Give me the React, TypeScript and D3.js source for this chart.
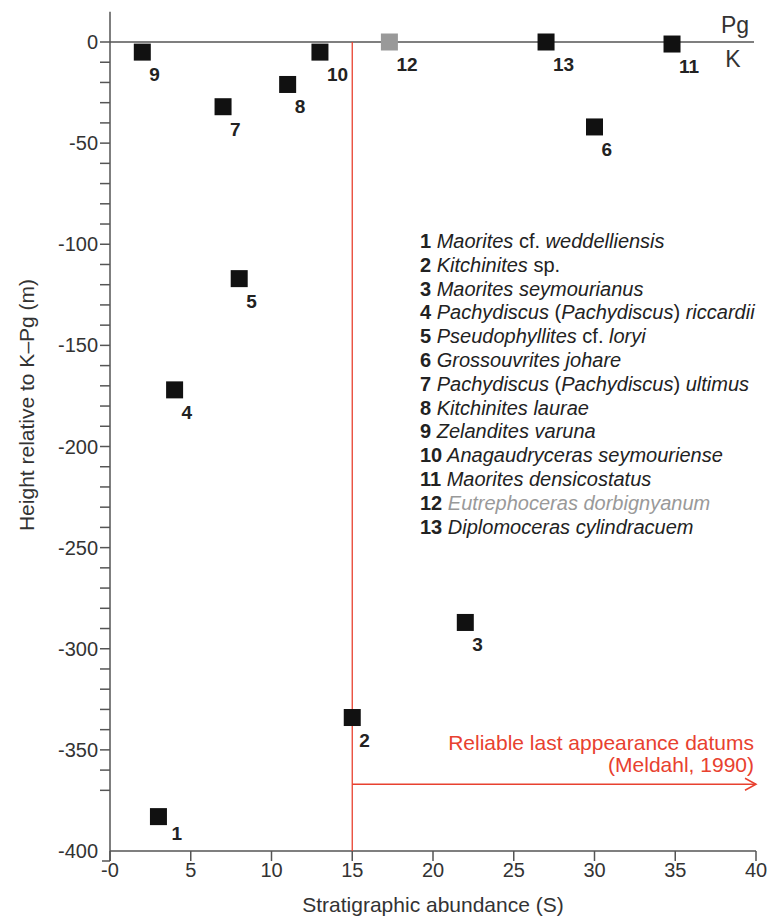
import React from "react";
import * as d3 from "d3";

// Taxon numbers, stratigraphic abundance (S) and height of last occurrence relative to the K–Pg boundary (m)
const taxonIds = [1, 2, 3, 4, 5, 6, 7, 8, 9, 10, 11, 12, 13];
const abundance = [3, 15, 22, 4, 8, 30, 7, 11, 2, 13, 34.8, 17.3, 27];
const heightKPg = [-383, -334, -287, -172, -117, -42, -32, -21, -5, -5, -1, 0, 0];
// Nautiloid drawn in grey
const greyTaxa = [12];

// Legend: each entry is a list of [text, italic] segments
const taxonNames: [string, boolean][][] = [
  [["Maorites", true], [" cf. ", false], ["weddelliensis", true]],
  [["Kitchinites", true], [" sp.", false]],
  [["Maorites seymourianus", true]],
  [["Pachydiscus", true], [" (", false], ["Pachydiscus", true], [") ", false], ["riccardii", true]],
  [["Pseudophyllites", true], [" cf. ", false], ["loryi", true]],
  [["Grossouvrites johare", true]],
  [["Pachydiscus", true], [" (", false], ["Pachydiscus", true], [") ", false], ["ultimus", true]],
  [["Kitchinites laurae", true]],
  [["Zelandites varuna", true]],
  [["Anagaudryceras seymouriense", true]],
  [["Maorites densicostatus", true]],
  [["Eutrephoceras dorbignyanum", true]],
  [["Diplomoceras cylindracuem", true]],
];

const xTicks = [0, 5, 10, 15, 20, 25, 30, 35, 40];
const yMajorTicks = [0, -50, -100, -150, -200, -250, -300, -350, -400];
const yMinorTicks = [-10, -20, -30, -40, -60, -70, -80, -90, -110, -120, -130, -140, -160, -170, -180, -190,
  -210, -220, -230, -240, -260, -270, -280, -290, -310, -320, -330, -340, -360, -370];

// Reliable last appearance datum threshold (Meldahl, 1990)
const ladThreshold = 15;
const ladArrowLevel = -367;

const FONT = "'Liberation Sans', Arial, Helvetica, sans-serif";
const AXIS = "#555";
const TEXT = "#333";
const RED = "#e8412f";
const GREY = "#999";

export default function App() {
  const W = 781, H = 922;
  const x = d3.scaleLinear().domain([0, 40]).range([110, 756]);
  const y = d3.scaleLinear().domain([-400, 0]).range([851, 42]);
  const x0 = x(0);
  const yBase = y(-400);
  const tick = 10;
  const sq = 17;

  // label placement relative to each square's centre
  const labelOffset = (id: number) => (id === 1 ? [13, 23] : [7, 29]);

  const arrowY = y(ladArrowLevel);
  const arrowEnd = x(40);

  return (
    <svg width={W} height={H} style={{ position: "absolute", left: 0, top: 0, background: "#fff" }}
      fontFamily={FONT}>
      <rect width={W} height={H} fill="#fff" />

      {/* y axis */}
      <line x1={x0} x2={x0} y1={y(15)} y2={yBase + tick} stroke={AXIS} strokeWidth={1.5} />
      {yMinorTicks.map((v) => (
        <line key={"mn" + v} x1={x0 - tick} x2={x0} y1={y(v)} y2={y(v)} stroke={AXIS} strokeWidth={1.5} />
      ))}
      {yMajorTicks.filter((v) => v !== -400 && v !== 0).map((v) => (
        <line key={"mj" + v} x1={x0 - tick} x2={x0} y1={y(v)} y2={y(v)} stroke={AXIS} strokeWidth={1.5} />
      ))}
      <line x1={x0 - 8} x2={x0} y1={yBase + tick} y2={yBase + tick} stroke={AXIS} strokeWidth={1.5} />
      {yMajorTicks.map((v) => (
        <text key={"yl" + v} x={x0 - 12} y={y(v) + 7} textAnchor="end" fontSize={20} fill={TEXT}>
          {String(v)}
        </text>
      ))}
      <text transform={`translate(34,405) rotate(-90)`} textAnchor="middle"
        fontSize={21} fill={TEXT}>
        Height relative to K–Pg (m)
      </text>

      {/* x axis */}
      <line x1={x0} x2={x(40)} y1={yBase} y2={yBase} stroke={AXIS} strokeWidth={1.5} />
      {xTicks.map((v) => (
        <line key={"xt" + v} x1={x(v)} x2={x(v)} y1={yBase} y2={yBase + tick} stroke={AXIS} strokeWidth={1.5} />
      ))}
      {xTicks.map((v) => (
        <text key={"xl" + v} x={x(v)} y={yBase + 26} textAnchor="middle" fontSize={20} fill={TEXT}>
          {v === 0 ? "-0" : String(v)}
        </text>
      ))}
      <text x={(x(0) + x(40)) / 2} y={yBase + 61} textAnchor="middle" fontSize={21} fill={TEXT}>
        Stratigraphic abundance (S)
      </text>

      {/* K–Pg boundary */}
      <line x1={x0 - tick} x2={754} y1={y(0)} y2={y(0)} stroke={AXIS} strokeWidth={1.5} />
      <text x={735} y={y(0) - 9} textAnchor="middle" fontSize={23} fill={TEXT}>Pg</text>
      <text x={733} y={y(0) + 25} textAnchor="middle" fontSize={23} fill={TEXT}>K</text>

      {/* reliable LAD threshold */}
      <line x1={x(ladThreshold)} x2={x(ladThreshold)} y1={y(0)} y2={yBase} stroke={RED} strokeWidth={1.3} />
      <line x1={x(ladThreshold)} x2={arrowEnd} y1={arrowY} y2={arrowY} stroke={RED} strokeWidth={1.3} />
      <polyline points={`${arrowEnd - 11},${arrowY - 6} ${arrowEnd},${arrowY} ${arrowEnd - 11},${arrowY + 6}`}
        fill="none" stroke={RED} strokeWidth={1.5} />
      <text x={arrowEnd - 2} y={arrowY - 34} textAnchor="end" fontSize={21} fill={RED}>
        Reliable last appearance datums
      </text>
      <text x={arrowEnd - 2} y={arrowY - 12} textAnchor="end" fontSize={21} fill={RED}>
        (Meldahl, 1990)
      </text>

      {/* taxa */}
      {taxonIds.map((id, i) => {
        const cx = x(abundance[i]);
        const cy = y(heightKPg[i]);
        const [dx, dy] = labelOffset(id);
        return (
          <g key={"pt" + id}>
            <rect x={cx - sq / 2} y={cy - sq / 2} width={sq} height={sq}
              fill={greyTaxa.includes(id) ? GREY : "#111"} />
            <text x={cx + dx} y={cy + dy} fontSize={19} fontWeight="bold" fill="#222">{id}</text>
          </g>
        );
      })}

      {/* legend */}
      {taxonIds.map((id, i) => (
        <text key={"lg" + id} x={420} y={248 + i * 23.8} fontSize={20} fill={greyTaxa.includes(id) ? GREY : "#222"}>
          <tspan fontWeight="bold" fill="#222">{id}</tspan>
          {taxonNames[i].map(([t, it], k) => (
            <tspan key={k} fontStyle={it ? "italic" : "normal"} style={{ whiteSpace: "pre" }}>
              {k === 0 ? " " + t : t}
            </tspan>
          ))}
        </text>
      ))}
    </svg>
  );
}
